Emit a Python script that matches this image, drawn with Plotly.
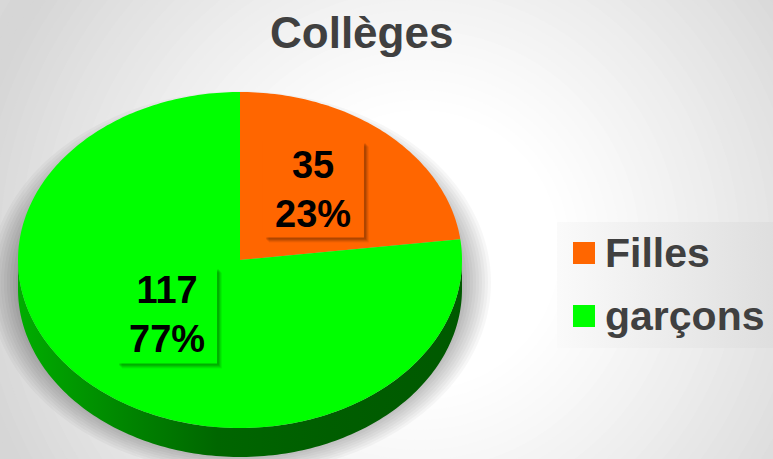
import numpy as np
import plotly.graph_objects as go

# ---------------- data ----------------
categories = ["Filles", "garçons"]
values = [35, 117]
colors = ["#FF6600", "#00FF00"]
title_text = "Collèges"

# ---------------- geometry / style ----------------
W, H = 773, 459
CX, CY, RX, RY, DEPTH = 240, 260, 222, 168, 29
LABEL_DY = -8
FONT = "Arial, Liberation Sans, sans-serif"
TXT = "#404040"
BOX_W, BOX_H = 101, 97

total = sum(values)
fracs = [v / total for v in values]
cum = np.concatenate([[0.0], np.cumsum(fracs)])


def ell(theta_deg, dy=0.0, rx=RX, ry=RY, cx=CX, cy=CY):
    t = np.radians(np.asarray(theta_deg, dtype=float))
    return cx + rx * np.sin(t), cy - ry * np.cos(t) + dy


def shade(hexcol, f):
    h = hexcol.lstrip("#")
    r, g, b = (int(h[i:i + 2], 16) for i in (0, 2, 4))
    return "rgb(%d,%d,%d)" % (r * f, g * f, b * f)


fig = go.Figure()

# ---------------- background radial gradient (shapes) ----------------
shapes = []
BGX, BGY = 420, 250
for r in range(480, 130, -10):
    t = min(max((r - 140) / (460 - 140), 0), 1)
    g = int(round(255 - 41 * t ** 1.15))
    shapes.append(dict(type="circle", xref="x", yref="y", x0=BGX - r, x1=BGX + r,
                       y0=BGY - r, y1=BGY + r, fillcolor="rgb(%d,%d,%d)" % (g, g, g),
                       line=dict(width=0), layer="below"))

# ---------------- legend box ----------------
fig.add_trace(go.Scatter(
    x=[557, 773, 773, 557, 557], y=[222, 222, 348, 348, 222], fill="toself", mode="none",
    fillgradient=dict(type="horizontal",
                      colorscale=[[0, "rgba(250,250,250,0.95)"], [1, "rgba(222,222,222,0.95)"]]),
    hoverinfo="skip", showlegend=False))

# ---------------- soft shadow under the pie ----------------
th_full = np.linspace(0, 360, 241)
for k in range(10):
    grow = 2 + k * 3
    x, y = ell(th_full, dy=DEPTH * 0.6 + 5, rx=RX + grow, ry=RY + grow * 0.8)
    fig.add_trace(go.Scatter(x=x, y=y, fill="toself", mode="none",
                             fillcolor="rgba(0,0,0,0.032)", hoverinfo="skip", showlegend=False))

# ---------------- pie side (visible front half) ----------------
for i, c in enumerate(colors):
    a0, a1 = cum[i] * 360, cum[i + 1] * 360
    s0, s1 = max(a0, 90), min(a1, 270)
    if s1 <= s0:
        continue
    th = np.linspace(s0, s1, 160)
    xt, yt = ell(th)
    xb, yb = ell(th[::-1], dy=DEPTH)
    x = np.concatenate([xt, xb, xt[:1]])
    y = np.concatenate([yt, yb, yt[:1]])
    fig.add_trace(go.Scatter(
        x=x, y=y, fill="toself", mode="none",
        fillgradient=dict(type="horizontal",
                          colorscale=[[0, shade(c, 0.68)], [0.25, shade(c, 0.52)],
                                      [0.45, shade(c, 0.40)], [0.7, shade(c, 0.37)],
                                      [1, shade(c, 0.35)]]),
        fillcolor=shade(c, 0.45), hoverinfo="skip", showlegend=False))

# ---------------- pie top face ----------------
for i, (cat, v, c) in enumerate(zip(categories, values, colors)):
    a0, a1 = cum[i] * 360, cum[i + 1] * 360
    n = max(int(a1 - a0) + 2, 3)
    th = np.linspace(a0, a1, n)
    xa, ya = ell(th)
    x = np.concatenate([[CX], xa, [CX]])
    y = np.concatenate([[CY], ya, [CY]])
    fig.add_trace(go.Scatter(x=x, y=y, fill="toself", mode="none", fillcolor=c,
                             name=cat, hovertemplate=f"{cat}: {v}<extra></extra>",
                             showlegend=False))

# ---------------- data labels (box + soft shadow) ----------------
annotations = []
for i, (v, f, c) in enumerate(zip(values, fracs, colors)):
    mid = (cum[i] + cum[i + 1]) / 2 * 360
    lx, ly = ell(mid, rx=RX * 0.5, ry=RY * 0.5, cy=CY + LABEL_DY)
    lx, ly = float(lx), float(ly)
    # blurred shadow: stacked translucent rectangles
    for off, alpha in ((7, 0.06), (6, 0.08), (5, 0.10), (4, 0.12)):
        shapes.append(dict(type="rect", xref="x", yref="y",
                           x0=lx - BOX_W / 2 + off - 1, x1=lx + BOX_W / 2 + off - 2,
                           y0=ly - BOX_H / 2 + off - 1, y1=ly + BOX_H / 2 + off - 2,
                           fillcolor="rgba(0,0,0,%.2f)" % alpha, line=dict(width=0),
                           layer="above"))
    shapes.append(dict(type="rect", xref="x", yref="y",
                       x0=lx - BOX_W / 2, x1=lx + BOX_W / 2,
                       y0=ly - BOX_H / 2, y1=ly + BOX_H / 2,
                       fillcolor=c, line=dict(width=0), layer="above"))
    annotations.append(dict(x=lx, y=ly, xref="x", yref="y", showarrow=False,
                            text=f"{v}<br>{round(100 * f)}%", align="center",
                            font=dict(family=FONT, size=38, color="black", weight="bold"),
                            xanchor="center", yanchor="middle"))

# ---------------- title ----------------
annotations.append(dict(x=361, y=32, xref="x", yref="y", showarrow=False, text=title_text,
                        font=dict(family=FONT, size=44, color=TXT, weight="bold"),
                        xanchor="center", yanchor="middle"))

# ---------------- legend (manual) ----------------
for i, (cat, c) in enumerate(zip(categories, colors)):
    yc = 253 + i * 63
    shapes.append(dict(type="rect", xref="x", yref="y", x0=573, x1=595, y0=yc - 11, y1=yc + 11,
                       fillcolor=c, line=dict(width=0), layer="above"))
    annotations.append(dict(x=603, y=yc, xref="x", yref="y", showarrow=False, text=cat,
                            font=dict(family=FONT, size=41, color=TXT, weight="bold"),
                            xanchor="left", yanchor="middle"))

fig.update_layout(
    width=W, height=H, margin=dict(l=0, r=0, t=0, b=0),
    paper_bgcolor="#D8D8D8", plot_bgcolor="#D8D8D8",
    xaxis=dict(range=[0, W], visible=False, fixedrange=True),
    yaxis=dict(range=[H, 0], visible=False, fixedrange=True),
    shapes=shapes, annotations=annotations, showlegend=False,
)

fig.write_html("out.html", config={"displayModeBar": False},
               post_script="document.body.style.margin='0';")
